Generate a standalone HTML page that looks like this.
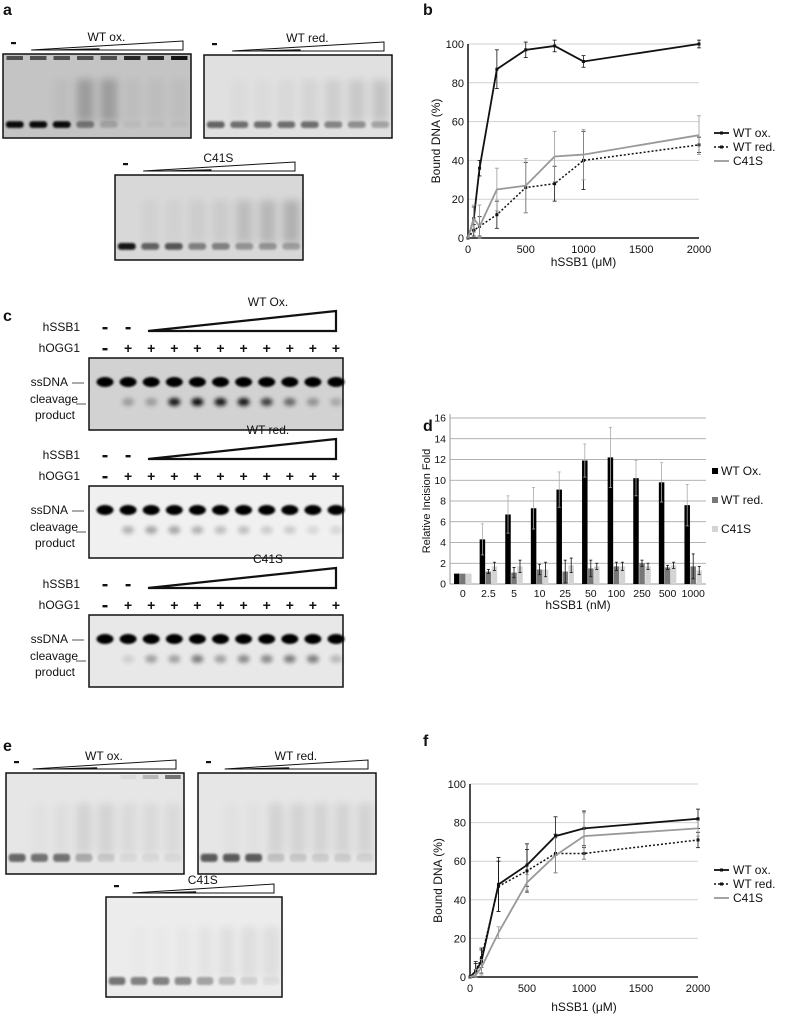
<!DOCTYPE html>
<html><head><meta charset="utf-8">
<style>
html,body{margin:0;padding:0;background:#fff;}
svg{display:block;font-family:"Liberation Sans",Arial,sans-serif;}
</style></head>
<body>
<svg id="fig" width="787" height="1018" viewBox="0 0 787 1018" xmlns="http://www.w3.org/2000/svg">
<defs>
<filter id="blur2" x="-50%" y="-50%" width="200%" height="200%"><feGaussianBlur stdDeviation="2"/></filter>
<filter id="blur1" x="-50%" y="-50%" width="200%" height="200%"><feGaussianBlur stdDeviation="1"/></filter>
<filter id="blur4" x="-50%" y="-50%" width="200%" height="200%"><feGaussianBlur stdDeviation="4"/></filter>
</defs>
<g id="layer"></g>
</svg>
<script>
// ---------- Chart b data ----------
const bX = [0, 50, 100, 250, 500, 750, 1000, 2000];
const bOx = [0, 10, 36, 87, 97, 99, 91, 100];
const bOxErr = [0, 6, 4, 10, 4, 3, 3, 2];
const bRed = [0, 4, 6, 12, 26, 28, 40, 48];
const bRedErr = [0, 3, 5, 7, 13, 9, 15, 4];
const bC41 = [0, 10, 6, 25, 27, 42, 43, 53];
const bC41Err = [0, 7, 11, 11, 14, 13, 13, 10];
const bYTicks = [0, 20, 40, 60, 80, 100];
const bXTicks = [0, 500, 1000, 1500, 2000];
// ---------- Chart d data ----------
const dCats = ["0", "2.5", "5", "10", "25", "50", "100", "250", "500", "1000"];
const dOx = [1, 4.3, 6.7, 7.3, 9.1, 11.9, 12.2, 10.2, 9.8, 7.6];
const dOxErr = [0, 1.5, 1.8, 2.0, 1.7, 1.6, 2.9, 1.7, 1.9, 2.0];
const dRed = [1, 1.2, 1.1, 1.4, 1.2, 1.5, 1.7, 2.0, 1.6, 1.7];
const dRedErr = [0, 0.2, 0.5, 0.5, 1.1, 0.8, 0.4, 0.3, 0.2, 1.2];
const dC41 = [1, 1.7, 1.7, 1.4, 1.8, 1.7, 1.7, 1.7, 1.8, 1.3];
const dC41Err = [0, 0.4, 0.6, 0.7, 0.7, 0.3, 0.4, 0.3, 0.3, 0.4];
const dYTicks = [0, 2, 4, 6, 8, 10, 12, 14, 16];
// ---------- Chart f data ----------
const fX = [0, 50, 100, 250, 500, 750, 1000, 2000];
const fOx = [0, 3, 8, 48, 58, 73, 77, 82];
const fOxErr = [0, 5, 6, 14, 11, 10, 9, 5];
const fRed = [0, 3, 10, 47, 55, 64, 64, 71];
const fRedErr = [0, 4, 5, 13, 11, 10, 3, 4];
const fC41 = [0, 1, 5, 23, 49, 63, 73, 77];
const fC41Err = [0, 3, 4, 3, 4, 9, 12, 4];
const fYTicks = [0, 20, 40, 60, 80, 100];
const fXTicks = [0, 500, 1000, 1500, 2000];

const NS = "http://www.w3.org/2000/svg";
const root = document.getElementById('layer');
function mk(tag, attrs, parent, txt) {
  const e = document.createElementNS(NS, tag);
  for (const k in attrs) e.setAttribute(k, attrs[k]);
  if (txt !== undefined) e.textContent = txt;
  (parent || root).appendChild(e);
  return e;
}
function grp(name, parent) {
  const g = mk('g', {}, parent);
  
  
  return g;
}
function label(x, y, t, size, name, parent, anchor, weight) {
  const e = mk('text', {x: x, y: y, 'font-size': size, 'text-anchor': anchor || 'start', 'font-weight': weight || 'normal', fill: '#111'}, parent, t);
  
  
  return e;
}

// panel letters
[["a", 3, 15], ["b", 423, 15], ["c", 3, 321], ["d", 423, 431], ["e", 3, 751], ["f", 423, 746]].forEach(p => {
  label(p[1], p[2], p[0], 16, 'panel-label-' + p[0], null, 'start', 'bold');
});

// ---------- gel helpers ----------
function wedge(g, x1, x2, yb, h) {
  mk('polygon', {points: `${x1},${yb} ${x2},${yb - h} ${x2},${yb}`, fill: '#fff', stroke: '#111', 'stroke-width': 1}, g);
  mk('polygon', {points: `${x1},${yb} ${x1 + (x2 - x1) * 0.45},${yb - 1.8} ${x1 + (x2 - x1) * 0.45},${yb}`, fill: '#111'}, g);
}
function blackWedge(g, x1, x2, yb, h) {
  mk('polygon', {points: `${x1},${yb} ${x2},${yb - h} ${x2},${yb}`, fill: '#fff', stroke: '#111', 'stroke-width': 2.2, 'stroke-linejoin': 'miter'}, g);
}
function emsa(name, x, y, w, h, bg, title, bands, smears, wells) {
  const g = grp(name);
  const n = bands.length;
  const lw = w / n;
  label(x + w * 0.55, y - 13, title, 12, name + '-title', g, 'middle');
  mk('rect', {x: x + 8, y: y - 12, width: 5, height: 2.2, fill: '#111'}, g);
  wedge(g, x + lw * 1.2, x + w - 8, y - 4, 9);
  mk('rect', {x: x, y: y, width: w, height: h, fill: bg, stroke: '#111', 'stroke-width': 1.5}, g);
  for (let i = 0; i < n; i++) {
    const cx = x + lw * (i + 0.5);
    if (smears[i] > 0) mk('rect', {x: cx - lw * 0.35, y: y + h * 0.3, width: lw * 0.7, height: h * 0.5, fill: '#000', opacity: smears[i], filter: 'url(#blur4)'}, g);
    if (bands[i] > 0) mk('rect', {x: cx - lw * 0.38, y: y + h * 0.8, width: lw * 0.76, height: h * 0.08, rx: 3, fill: '#000', opacity: bands[i], filter: 'url(#blur1)'}, g);
    if (wells && wells[i] > 0) mk('rect', {x: cx - lw * 0.35, y: y + 2, width: lw * 0.7, height: 4, fill: '#000', opacity: wells[i]}, g);
  }
}
emsa('gel-a-wt-ox', 3, 54, 188, 84, '#c4c4c4', 'WT ox.', [0.95, 0.95, 0.95, 0.4, 0.15, 0.04, 0.03, 0.03], [0, 0, 0.03, 0.2, 0.2, 0.03, 0.03, 0.03], [0.6, 0.6, 0.6, 0.6, 0.6, 0.8, 0.8, 0.9]);
emsa('gel-a-wt-red', 204, 55, 188, 83, '#e0e0e0', 'WT red.', [0.55, 0.5, 0.5, 0.5, 0.5, 0.4, 0.35, 0.25], [0, 0.02, 0.02, 0.03, 0.05, 0.08, 0.1, 0.12], null);
emsa('gel-a-c41s', 115, 175, 188, 85, '#d8d8d8', 'C41S', [0.9, 0.55, 0.6, 0.4, 0.4, 0.3, 0.3, 0.25], [0, 0.03, 0.03, 0.05, 0.06, 0.12, 0.15, 0.18], null);
emsa('gel-e-wt-ox', 6, 773, 178, 101, '#e6e6e6', 'WT ox.', [0.55, 0.5, 0.5, 0.25, 0.12, 0.05, 0.05, 0.05], [0, 0.02, 0.03, 0.08, 0.08, 0.05, 0.05, 0.05], [0, 0, 0, 0, 0, 0.05, 0.2, 0.5]);
emsa('gel-e-wt-red', 198, 773, 178, 101, '#e6e6e6', 'WT red.', [0.6, 0.6, 0.6, 0.15, 0.12, 0.1, 0.1, 0.08], [0, 0.02, 0.02, 0.08, 0.08, 0.08, 0.08, 0.08], null);
emsa('gel-e-c41s', 106, 897, 176, 100, '#ececec', 'C41S', [0.5, 0.45, 0.45, 0.4, 0.3, 0.2, 0.1, 0.05], [0, 0.01, 0.01, 0.02, 0.03, 0.05, 0.06, 0.06], null);

function incision(name, y0, title, sub, prod) {
  const g = grp(name);
  const x = 89, w = 254, gy = y0 + 40, gh = 72;
  const lanes = 11, lw = 23.1, lx0 = 105;
  label(268, y0 - 12, title, 12, name + '-title', g, 'middle');
  blackWedge(g, 148, 336, y0 + 13, 20);
  label(80, y0 + 13, 'hSSB1', 12, name + '-hssb1-label', g, 'end');
  label(80, y0 + 34, 'hOGG1', 12, name + '-hogg1-label', g, 'end');
  for (let i = 0; i < lanes; i++) {
    const cx = lx0 + i * lw;
    if (i < 2) mk('rect', {x: cx - 2.5, y: y0 + 9, width: 5, height: 2.4, fill: '#111'}, g);
    if (i === 0) mk('rect', {x: cx - 2.5, y: y0 + 30, width: 5, height: 2.4, fill: '#111'}, g);
    else label(cx, y0 + 35, '+', 14, name + '-plus', g, 'middle', 'bold');
  }
  mk('rect', {x: x, y: gy, width: w, height: gh, fill: sub, stroke: '#111', 'stroke-width': 1.5}, g);
  for (let i = 0; i < lanes; i++) {
    const cx = lx0 + i * lw;
    mk('ellipse', {cx: cx, cy: gy + 24, rx: 8.5, ry: 5, fill: '#000', filter: 'url(#blur1)'}, g);
    if (prod[i] > 0) mk('ellipse', {cx: cx, cy: gy + 44, rx: 6, ry: 4, fill: '#000', opacity: prod[i], filter: 'url(#blur2)'}, g);
  }
  label(68, gy + 28, 'ssDNA', 12, name + '-ssdna-label', g, 'end');
  mk('line', {x1: 72, y1: gy + 25, x2: 84, y2: gy + 25, stroke: '#555'}, g);
  label(78, gy + 45, 'cleavage', 12, name + '-cleavage-label', g, 'end');
  mk('line', {x1: 76, y1: gy + 46, x2: 86, y2: gy + 46, stroke: '#555'}, g);
  label(55, gy + 61, 'product', 12, name + '-product-label', g, 'middle');
}
incision('gel-c-wt-ox', 318, 'WT Ox.', '#d2d2d2', [0, 0.25, 0.25, 0.9, 0.95, 0.9, 0.9, 0.7, 0.5, 0.3, 0.2]);
incision('gel-c-wt-red', 446, 'WT red.', '#f0f0f0', [0, 0.25, 0.3, 0.3, 0.25, 0.2, 0.2, 0.15, 0.15, 0.1, 0.1]);
incision('gel-c-c41s', 575, 'C41S', '#e8e8e8', [0, 0.1, 0.3, 0.3, 0.45, 0.3, 0.4, 0.4, 0.45, 0.45, 0.2]);

// ---------- line charts ----------
function lineChart(name, X0, X1, Y0, Y100, xs, series, yTicks, xTicks, legY, xTitleY) {
  const g = grp(name);
  const xS = v => X0 + (v / 2000) * (X1 - X0);
  const yS = v => Y0 - (v / 100) * (Y0 - Y100);
  yTicks.forEach(t => {
    if (t > 0) mk('line', {x1: X0, y1: yS(t), x2: X1, y2: yS(t), stroke: '#d0d0d0', 'stroke-width': 1}, g);
    label(X0 - 4, yS(t) + 4, String(t), 11, name + '-y-tick', g, 'end');
  });
  mk('line', {x1: X0, y1: Y100, x2: X0, y2: Y0, stroke: '#111', 'stroke-width': 1.5}, g);
  mk('line', {x1: X0, y1: Y0, x2: X1, y2: Y0, stroke: '#111', 'stroke-width': 1.5}, g);
  xTicks.forEach(t => label(xS(t), Y0 + 15, String(t), 11, name + '-x-tick', g, 'middle'));
  label((X0 + X1) / 2, xTitleY, 'hSSB1 (μM)', 12, name + '-x-axis-title', g, 'middle');
  const yt = label(0, 0, 'Bound DNA (%)', 12, name + '-y-axis-title', g, 'middle');
  yt.setAttribute('transform', `translate(${X0 - 28},${(Y0 + Y100) / 2}) rotate(-90)`);
  series.forEach((s, si) => {
    const sg = grp(name + '-series-' + s.key, g);
    let d = '';
    xs.forEach((v, i) => { d += (i ? 'L' : 'M') + xS(v) + ',' + yS(s.vals[i]); });
    s.vals.forEach((v, i) => {
      const x = xS(xs[i]);
      mk('line', {x1: x, y1: yS(v + s.err[i]), x2: x, y2: yS(Math.max(0, v - s.err[i])), stroke: s.color, 'stroke-width': 0.8}, sg);
      mk('line', {x1: x - 2, y1: yS(v + s.err[i]), x2: x + 2, y2: yS(v + s.err[i]), stroke: s.color, 'stroke-width': 0.8}, sg);
      mk('line', {x1: x - 2, y1: yS(Math.max(0, v - s.err[i])), x2: x + 2, y2: yS(Math.max(0, v - s.err[i])), stroke: s.color, 'stroke-width': 0.8}, sg);
    });
    const p = mk('path', {d: d, fill: 'none', stroke: s.color, 'stroke-width': s.w, 'stroke-dasharray': s.dash || 'none'}, sg);
    
    
    if (s.marker) s.vals.forEach((v, i) => mk('rect', {x: xS(xs[i]) - 1.5, y: yS(v) - 1.5, width: 3, height: 3, fill: s.color}, sg));
    const lg = grp(name + '-legend-entry-' + s.key, g);
    const ly = legY + si * 14;
    mk('line', {x1: 714, y1: ly, x2: 729, y2: ly, stroke: s.color, 'stroke-width': s.w, 'stroke-dasharray': s.dash || 'none'}, lg);
    if (s.marker) mk('rect', {x: 720, y: ly - 1.5, width: 3, height: 3, fill: s.color}, lg);
    label(733, ly + 4, s.label, 12, name + '-legend-label', lg);
  });
}
lineChart('chart-b', 468, 699, 238, 44, bX, [
  {key: 'wt-ox', label: 'WT ox.', vals: bOx, err: bOxErr, color: '#111', w: 1.8, marker: true},
  {key: 'wt-red', label: 'WT red.', vals: bRed, err: bRedErr, color: '#111', w: 1.5, dash: '2,2', marker: true},
  {key: 'c41s', label: 'C41S', vals: bC41, err: bC41Err, color: '#999', w: 1.8}
], bYTicks, bXTicks, 133, 266);
lineChart('chart-f', 470, 698, 977, 784, fX, [
  {key: 'wt-ox', label: 'WT ox.', vals: fOx, err: fOxErr, color: '#111', w: 1.8, marker: true},
  {key: 'wt-red', label: 'WT red.', vals: fRed, err: fRedErr, color: '#111', w: 1.5, dash: '2,2', marker: true},
  {key: 'c41s', label: 'C41S', vals: fC41, err: fC41Err, color: '#999', w: 1.8}
], fYTicks, fXTicks, 870, 1011);

// ---------- bar chart d ----------
(function () {
  const name = 'chart-d';
  const g = grp(name);
  const X0 = 450, X1 = 706, Y0 = 584, Ytop = 418;
  const yS = v => Y0 - (v / 16) * (Y0 - Ytop);
  const cw = (X1 - X0) / dCats.length;
  dYTicks.forEach(t => {
    if (t > 0) mk('line', {x1: X0, y1: yS(t), x2: X1, y2: yS(t), stroke: '#999', 'stroke-width': 0.8}, g);
    label(X0 - 4, yS(t) + 3.5, String(t), 10.5, name + '-y-tick', g, 'end');
  });
  mk('line', {x1: X0, y1: Ytop - 4, x2: X0, y2: Y0, stroke: '#999'}, g);
  mk('line', {x1: X0, y1: Y0, x2: X1, y2: Y0, stroke: '#999'}, g);
  const series = [
    {key: 'wt-ox', label: 'WT Ox.', vals: dOx, err: dOxErr, color: '#000', ec: '#aaa'},
    {key: 'wt-red', label: 'WT red.', vals: dRed, err: dRedErr, color: '#777', ec: '#111'},
    {key: 'c41s', label: 'C41S', vals: dC41, err: dC41Err, color: '#d4d4d4', ec: '#111'}
  ];
  const bw = 5.5;
  dCats.forEach((c, i) => {
    const cx = X0 + cw * (i + 0.5);
    label(cx, Y0 + 13, c, 10.5, name + '-x-tick', g, 'middle');
  });
  series.forEach((s, si) => {
    const sg = grp(name + '-series-' + s.key, g);
    s.vals.forEach((v, i) => {
      const bx = X0 + cw * (i + 0.5) + (si - 1) * (bw + 0.5) - bw / 2;
      const r = mk('rect', {x: bx, y: yS(v), width: bw, height: Y0 - yS(v), fill: s.color}, sg);
      
      
      if (s.err[i] > 0) {
        const mx = bx + bw / 2;
        mk('line', {x1: mx, y1: yS(v + s.err[i]), x2: mx, y2: yS(v - s.err[i]), stroke: s.ec, 'stroke-width': 0.8}, sg);
        mk('line', {x1: mx - 1.5, y1: yS(v + s.err[i]), x2: mx + 1.5, y2: yS(v + s.err[i]), stroke: s.ec, 'stroke-width': 0.8}, sg);
        mk('line', {x1: mx - 1.5, y1: yS(v - s.err[i]), x2: mx + 1.5, y2: yS(v - s.err[i]), stroke: s.ec, 'stroke-width': 0.8}, sg);
      }
    });
    const lg = grp(name + '-legend-entry-' + s.key, g);
    const ly = 474 + si * 29;
    mk('rect', {x: 712, y: ly - 6, width: 6, height: 6, fill: s.color}, lg);
    label(721, ly + 1, s.label, 12, name + '-legend-label', lg);
  });
  label((X0 + X1) / 2, 609, 'hSSB1 (nM)', 12, name + '-x-axis-title', g, 'middle');
  const yt = label(0, 0, 'Relative Incision Fold', 11, name + '-y-axis-title', g, 'middle');
  yt.setAttribute('transform', `translate(430,${(Y0 + Ytop) / 2}) rotate(-90)`);
})();
</script>
</body></html>
